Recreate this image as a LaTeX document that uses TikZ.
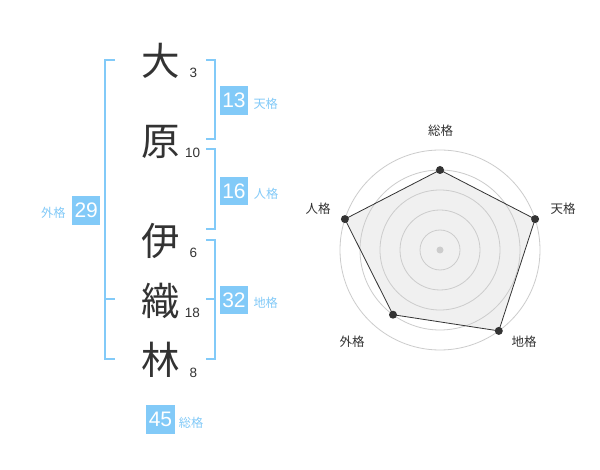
\documentclass[tikz,border=0pt]{standalone}
\usepackage{fontspec}
\setmainfont{Liberation Sans}
\newfontfamily\jp{Noto Sans CJK JP}
\definecolor{kblue}{HTML}{82CAF8}
\definecolor{kdark}{HTML}{333333}
\definecolor{kgrid}{HTML}{CCCCCC}
\definecolor{kfill}{HTML}{F0F0F0}
\tikzset{
  kanji/.style={inner sep=0pt, text=kdark, font=\jp\fontsize{38.5}{38.5}\selectfont},
  stroke/.style={inner sep=0pt, text=kdark, font=\fontsize{13.5}{13.5}\selectfont},
  numbox/.style={fill=kblue, text=white, minimum width=28.5pt, minimum height=28.5pt, inner sep=0pt, font=\fontsize{21}{21}\selectfont},
  kaku/.style={inner sep=0pt, text=kblue, font=\jp\fontsize{12.2}{12.2}\selectfont},
  bracket/.style={draw=kblue, line width=2pt},
  ring/.style={draw=kgrid, line width=0.8pt},
  rlabel/.style={inner sep=0pt, text=kdark, font=\jp\fontsize{12.5}{12.5}\selectfont},
  dot/.style={circle, fill=kdark, inner sep=0pt, minimum size=8pt},
}
\begin{document}
\begin{tikzpicture}[x=1pt,y=-1pt]
\useasboundingbox (0,0) rectangle (600,470);
\fill[white] (0,0) rectangle (600,470);
% name characters
\node[kanji] (c1) at (160.5,60.5) {大};
\node[kanji] (c2) at (160.5,141.5) {原};
\node[kanji] (c3) at (160.5,240.5) {伊};
\node[kanji] (c4) at (160.5,300.5) {織};
\node[kanji] (c5) at (160.5,359.5) {林};
% stroke counts
\node[stroke] (s1) at (193.3,72.7) {3};
\node[stroke] (s2) at (192.7,153.3) {10};
\node[stroke] (s3) at (193.3,252.7) {6};
\node[stroke] (s4) at (192.3,312.7) {18};
\node[stroke] (s5) at (193.3,373.3) {8};
% brackets
\draw[bracket] (115,60) -- (105,60) -- (105,359) -- (115,359);
\draw[bracket] (105,299.5) -- (115,299.5);
\draw[bracket] (206,60) -- (215,60) -- (215,139.5) -- (206,139.5);
\draw[bracket] (206,149) -- (215,149) -- (215,229.5) -- (206,229.5);
\draw[bracket] (206,240) -- (215,240) -- (215,359) -- (206,359);
\draw[bracket] (206,299.5) -- (215,299.5);
% number boxes
\node[numbox] (b13) at (234,100.3) {13};
\node[kaku] (k13) at (265.7,104) {天格};
\node[numbox] (b16) at (234,190.8) {16};
\node[kaku] (k16) at (266,194) {人格};
\node[numbox] (b32) at (234,300.2) {32};
\node[kaku] (k32) at (265.7,303.3) {地格};
\node[numbox] (b29) at (86.2,210.5) {29};
\node[kaku] (k29) at (53.3,213.3) {外格};
\node[numbox] (b45) at (160.5,419.5) {45};
\node[kaku] (k45) at (191,423.3) {総格};
% radar chart
\coordinate (rc) at (440,250);
\coordinate (p1) at (440,170);
\coordinate (p2) at (535.1,219.1);
\coordinate (p3) at (498.8,330.9);
\coordinate (p4) at (393.0,314.7);
\coordinate (p5) at (344.9,219.1);
\fill[kfill] (p1) -- (p2) -- (p3) -- (p4) -- (p5) -- cycle;
\foreach \r in {20,40,60,80,100} \draw[ring] (rc) circle[radius=\r];
\fill[kgrid] (rc) circle[radius=3.5];
\draw[kdark, line width=0.8pt] (p1) -- (p2) -- (p3) -- (p4) -- (p5) -- cycle;
\foreach \p in {p1,p2,p3,p4,p5} \node[dot] at (\p) {};
\node[rlabel] (r1) at (440.7,130.7) {総格};
\node[rlabel] (r2) at (563,209) {天格};
\node[rlabel] (r3) at (524,342) {地格};
\node[rlabel] (r4) at (352,342) {外格};
\node[rlabel] (r5) at (318,209) {人格};
\end{tikzpicture}
\end{document}
